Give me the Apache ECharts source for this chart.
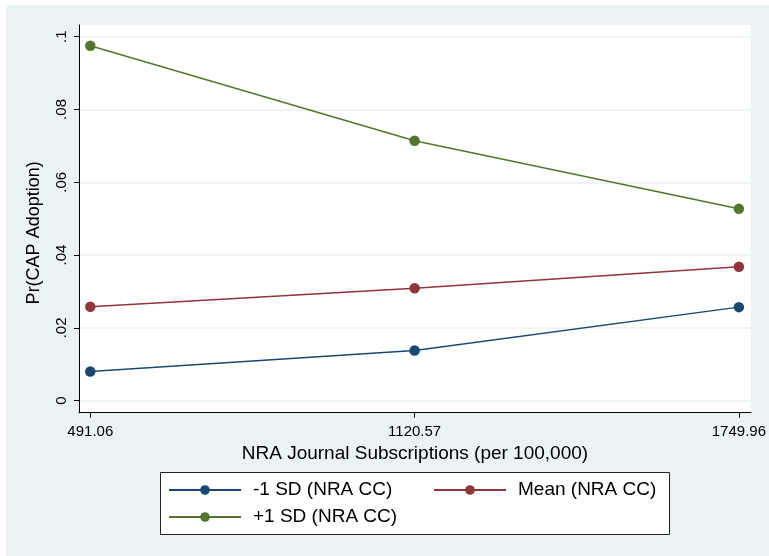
<!DOCTYPE html>
<html>
<head>
<meta charset="utf-8">
<script src="https://cdn.jsdelivr.net/npm/echarts@6/dist/echarts.min.js"></script>
<style>
html,body{margin:0;padding:0;background:#ffffff;}
#chart{width:769px;height:556px;}
</style>
</head>
<body>
<div id="chart"></div>
<script>
// ---- data ----
var xValues = [491.06, 1120.57, 1749.96];
var xTickValues = [491.06, 1120.57, 1749.96];
var yTickValues = [0, 0.02, 0.04, 0.06, 0.08, 0.1];
var seriesNames = ['-1 SD (NRA CC)', 'Mean (NRA CC)', '+1 SD (NRA CC)'];
var lowValues = [0.0080, 0.0138, 0.0257];
var meanValues = [0.0258, 0.0309, 0.0368];
var highValues = [0.0975, 0.0714, 0.0527];
var xTitle = 'NRA Journal Subscriptions (per 100,000)';
var yTitle = 'Pr(CAP Adoption)';

var colors = ['#1a476f', '#90353b', '#55752f'];
var FONT = 'Liberation Sans, Arial, sans-serif';

function pairs(vals) {
  return xValues.map(function (x, i) { return [x, vals[i]]; });
}
function yFmt(v) {
  if (Math.abs(v) < 1e-9) return '0';
  return String(+v.toFixed(2)).replace(/^0/, '');
}

function mkSeries(name, vals, color) {
  return {
    name: name,
    type: 'line',
    data: pairs(vals),
    symbol: 'circle',
    symbolSize: 10.5,
    showSymbol: true,
    itemStyle: { color: color },
    lineStyle: { color: color, width: 1.5 },
    emphasis: { disabled: true },
    animation: false
  };
}

var chart = echarts.init(document.getElementById('chart'), null, { renderer: 'canvas' });
chart.setOption({
  backgroundColor: '#ffffff',
  animation: false,
  textStyle: { fontFamily: FONT },
  graphic: {
    elements: [
      { type: 'rect', z: -100, silent: true,
        shape: { x: 6, y: 5, width: 763, height: 551 },
        style: { fill: '#eaf2f3' } },
      { type: 'rect', z: -50, silent: true,
        shape: { x: 160.5, y: 472.5, width: 509, height: 62 },
        style: { fill: '#ffffff', stroke: '#222222', lineWidth: 1 } }
    ]
  },
  grid: {
    left: 79, top: 25, width: 672.7, height: 387.7,
    show: true, backgroundColor: '#ffffff', borderWidth: 0
  },
  legend: {
    data: seriesNames,
    left: 168, top: 479.5, width: 545,
    padding: 0,
    itemWidth: 72, itemHeight: 12,
    itemGap: 6,
    textStyle: { fontFamily: FONT, fontSize: 19, color: '#000', width: 174, lineHeight: 21, padding: [0, 0, 0, 7] },
    selectedMode: false
  },
  xAxis: {
    type: 'value',
    min: 469.15, max: 1773.2,
    name: xTitle,
    nameLocation: 'middle',
    nameGap: 29,
    nameTextStyle: { fontFamily: FONT, fontSize: 19, color: '#000' },
    axisLine: { show: true, onZero: false, lineStyle: { color: '#000', width: 1 } },
    axisTick: { show: true, length: 5, customValues: xTickValues, lineStyle: { color: '#000' } },
    axisLabel: { customValues: xTickValues, fontFamily: FONT, fontSize: 15, color: '#000', margin: 12,
      formatter: function (v) { return v.toFixed(2); } },
    splitLine: { show: false }
  },
  yAxis: {
    type: 'value',
    min: -0.0033, max: 0.1032,
    name: yTitle,
    nameLocation: 'middle',
    nameGap: 36,
    nameRotate: 90,
    nameTextStyle: { fontFamily: FONT, fontSize: 18, color: '#000', padding: [0, 28, 0, 0] },
    axisLine: { show: true, onZero: false, lineStyle: { color: '#000', width: 1 } },
    axisTick: { show: true, length: 5, customValues: yTickValues, lineStyle: { color: '#000' } },
    axisLabel: { customValues: yTickValues, rotate: 90, fontFamily: FONT, fontSize: 15, color: '#000', margin: 10,
      formatter: yFmt },
    splitLine: { show: true, lineStyle: { color: '#eaf2f3', width: 1.5 } }
  },
  series: [
    mkSeries(seriesNames[0], lowValues, colors[0]),
    mkSeries(seriesNames[1], meanValues, colors[1]),
    mkSeries(seriesNames[2], highValues, colors[2])
  ]
});
</script>
</body>
</html>
